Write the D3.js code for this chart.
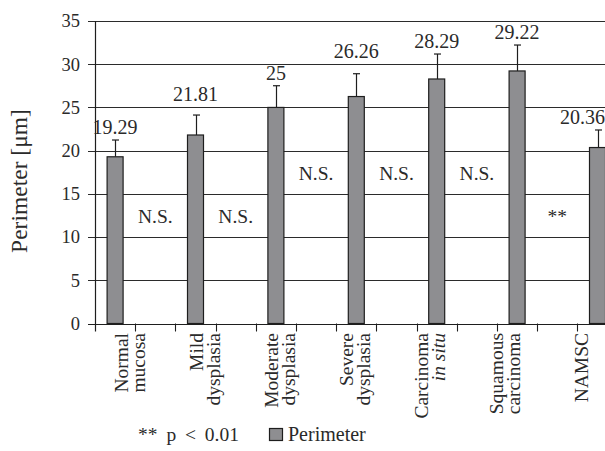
<!DOCTYPE html>
<html>
<head>
<meta charset="utf-8">
<script src="https://cdn.jsdelivr.net/npm/d3@7"></script>
<style>
  html, body { margin: 0; padding: 0; background: #fff; }
  svg { display: block; }
</style>
</head>
<body>
<svg id="chart" width="605" height="451"></svg>
<script>
// Mean cell perimeter per lesion group (µm) and the upper error bar length
const categoryLines = [
  ["Normal", "mucosa"],
  ["Mild", "dysplasia"],
  ["Moderate", "dysplasia"],
  ["Severe", "dysplasia"],
  ["Carcinoma", "in situ"],
  ["Squamous", "carcinoma"],
  ["NAMSC"]
];
const italicLines = ["in situ"];
const perimeterValues = [19.29, 21.81, 25, 26.26, 28.29, 29.22, 20.36];
const perimeterErrors = [1.94, 2.31, 2.51, 2.64, 2.89, 3.0, 2.03];
const yTicks = [0, 5, 10, 15, 20, 25, 30, 35];
// Significance between neighbouring groups
const sigLabels = ["N.S.", "N.S.", "N.S.", "N.S.", "N.S.", "**"];
const legendNote = "** p < 0.01";
const seriesName = "Perimeter";
const yTitle = "Perimeter [\u03BCm]";

const W = 605, H = 451;
const FONT = "'Liberation Serif', 'DejaVu Serif', 'Noto Serif', serif";
const svg = d3.select("#chart")
  .attr("font-family", FONT);

// Plot frame: every group takes two slots (bar, then gap); the frame runs past the right edge
const left = 95, slotW = 40.2, nSlots = 14;
const x = d3.scaleBand().domain(d3.range(nSlots)).range([left, left + slotW * nSlots]).padding(0);
const y = d3.scaleLinear().domain([0, 35]).range([323.5, 21]);
const barW = 16;
const ink = "#2a2a2a";

const plot = svg.append("g");

// Horizontal gridlines with outward ticks on the value axis
plot.selectAll("line.grid").data(yTicks).join("line")
  .attr("x1", left - 7).attr("x2", W)
  .attr("y1", d => Math.round(y(d)) + 0.5).attr("y2", d => Math.round(y(d)) + 0.5)
  .attr("stroke", "#2b2b2b").attr("stroke-width", 1.1);

plot.selectAll("text.ytick").data(yTicks).join("text")
  .attr("x", left - 15).attr("y", d => y(d))
  .attr("dy", "0.34em")
  .attr("text-anchor", "end")
  .attr("font-size", 18.5)
  .attr("fill", ink)
  .text(d => d);

// Value axis line
plot.append("line")
  .attr("x1", left + 0.5).attr("x2", left + 0.5)
  .attr("y1", y(35)).attr("y2", y(0) + 8)
  .attr("stroke", "#1e1e1e").attr("stroke-width", 1.2);

// Category axis ticks at slot boundaries
plot.selectAll("line.xtick").data(d3.range(1, nSlots)).join("line")
  .attr("x1", d => Math.round(x(d)) + 0.5).attr("x2", d => Math.round(x(d)) + 0.5)
  .attr("y1", y(0)).attr("y2", y(0) + 8)
  .attr("stroke", "#1e1e1e").attr("stroke-width", 1.1);

const barX = i => x(2 * i) + (x.bandwidth() - barW) / 2;
const barCX = i => x(2 * i) + x.bandwidth() / 2;

// Error bars (upper whisker only)
const eb = plot.append("g").attr("stroke", "#1e1e1e").attr("stroke-width", 1.2);
perimeterValues.forEach((v, i) => {
  const cx = Math.round(barCX(i)) + 0.5;
  eb.append("line").attr("x1", cx).attr("x2", cx)
    .attr("y1", y(v)).attr("y2", y(v + perimeterErrors[i]));
  eb.append("line").attr("x1", cx - 3.5).attr("x2", cx + 3.5)
    .attr("y1", y(v + perimeterErrors[i])).attr("y2", y(v + perimeterErrors[i]));
});

// Bars
plot.selectAll("rect.bar").data(perimeterValues).join("rect")
  .attr("x", (d, i) => barX(i))
  .attr("y", d => y(d))
  .attr("width", barW)
  .attr("height", d => y(0) - y(d))
  .attr("fill", "#8e8e91")
  .attr("stroke", "#1e1e1e").attr("stroke-width", 1.2);

// Horizontal axis line on top of the bars
plot.append("line")
  .attr("x1", left - 7).attr("x2", W)
  .attr("y1", Math.round(y(0)) + 0.5).attr("y2", Math.round(y(0)) + 0.5)
  .attr("stroke", "#1e1e1e").attr("stroke-width", 1.2);

// Value labels above the whiskers; a label that would sit on a gridline is lifted above it,
// and labels are kept inside the visible frame
const capH = 13, gapAbove = 6;
const labelBaseline = (d, i) => {
  let b = y(d + perimeterErrors[i]) - gapAbove;
  yTicks.forEach(t => {
    const gy = y(t);
    if (gy > b - capH - 1 && gy < b + 2) b = gy - gapAbove;
  });
  return b;
};
plot.selectAll("text.val").data(perimeterValues).join("text")
  .attr("x", (d, i) => barCX(i))
  .attr("y", labelBaseline)
  .attr("text-anchor", "middle")
  .attr("font-size", 20)
  .attr("fill", ink)
  .text(d => d)
  .each(function () {
    const t = d3.select(this);
    const half = this.getComputedTextLength() / 2;
    const cx = +t.attr("x");
    if (cx + half > W) t.attr("x", W - half);
  });

// Significance marks in the gap slots
const sigLevel = [11.63, 11.63, 16.6, 16.6, 16.6, 11.6];
plot.selectAll("text.sig").data(sigLabels).join("text")
  .attr("x", (d, i) => x(2 * i + 1) + x.bandwidth() / 2)
  .attr("y", (d, i) => y(sigLevel[i]))
  .attr("text-anchor", "middle")
  .attr("font-size", 19.5)
  .attr("fill", ink)
  .text(d => d);

// Rotated category labels
const labelX = d3.scalePoint().domain(d3.range(categoryLines.length)).range([136.5, 587]);
const lineGap = 17;
categoryLines.forEach((lines, i) => {
  const g = svg.append("g")
    .attr("transform", `translate(${labelX(i)},333) rotate(-90)`);
  lines.forEach((ln, j) => {
    const off = lines.length === 1 ? 1 : (j - (lines.length - 1) / 2) * lineGap;
    g.append("text")
      .attr("x", 0).attr("y", off)
      .attr("text-anchor", "end")
      .attr("font-size", 19.5)
      .attr("fill", ink)
      .attr("font-style", italicLines.includes(ln) ? "italic" : "normal")
      .text(ln);
  });
});

// Value axis title
svg.append("text")
  .attr("transform", "translate(27,181) rotate(-90)")
  .attr("text-anchor", "middle")
  .attr("font-size", 23.5)
  .attr("fill", ink)
  .text(yTitle);

// Legend
svg.append("text")
  .attr("x", 138).attr("y", 441)
  .attr("font-size", 19.5)
  .attr("word-spacing", 4)
  .attr("fill", ink)
  .text(legendNote);
svg.append("rect")
  .attr("x", 269.5).attr("y", 428.5).attr("width", 13).attr("height", 12)
  .attr("fill", "#8e8e91").attr("stroke", "#1e1e1e").attr("stroke-width", 1.2);
svg.append("text")
  .attr("x", 288).attr("y", 441)
  .attr("font-size", 20)
  .attr("fill", ink)
  .text(seriesName);
</script>
</body>
</html>
